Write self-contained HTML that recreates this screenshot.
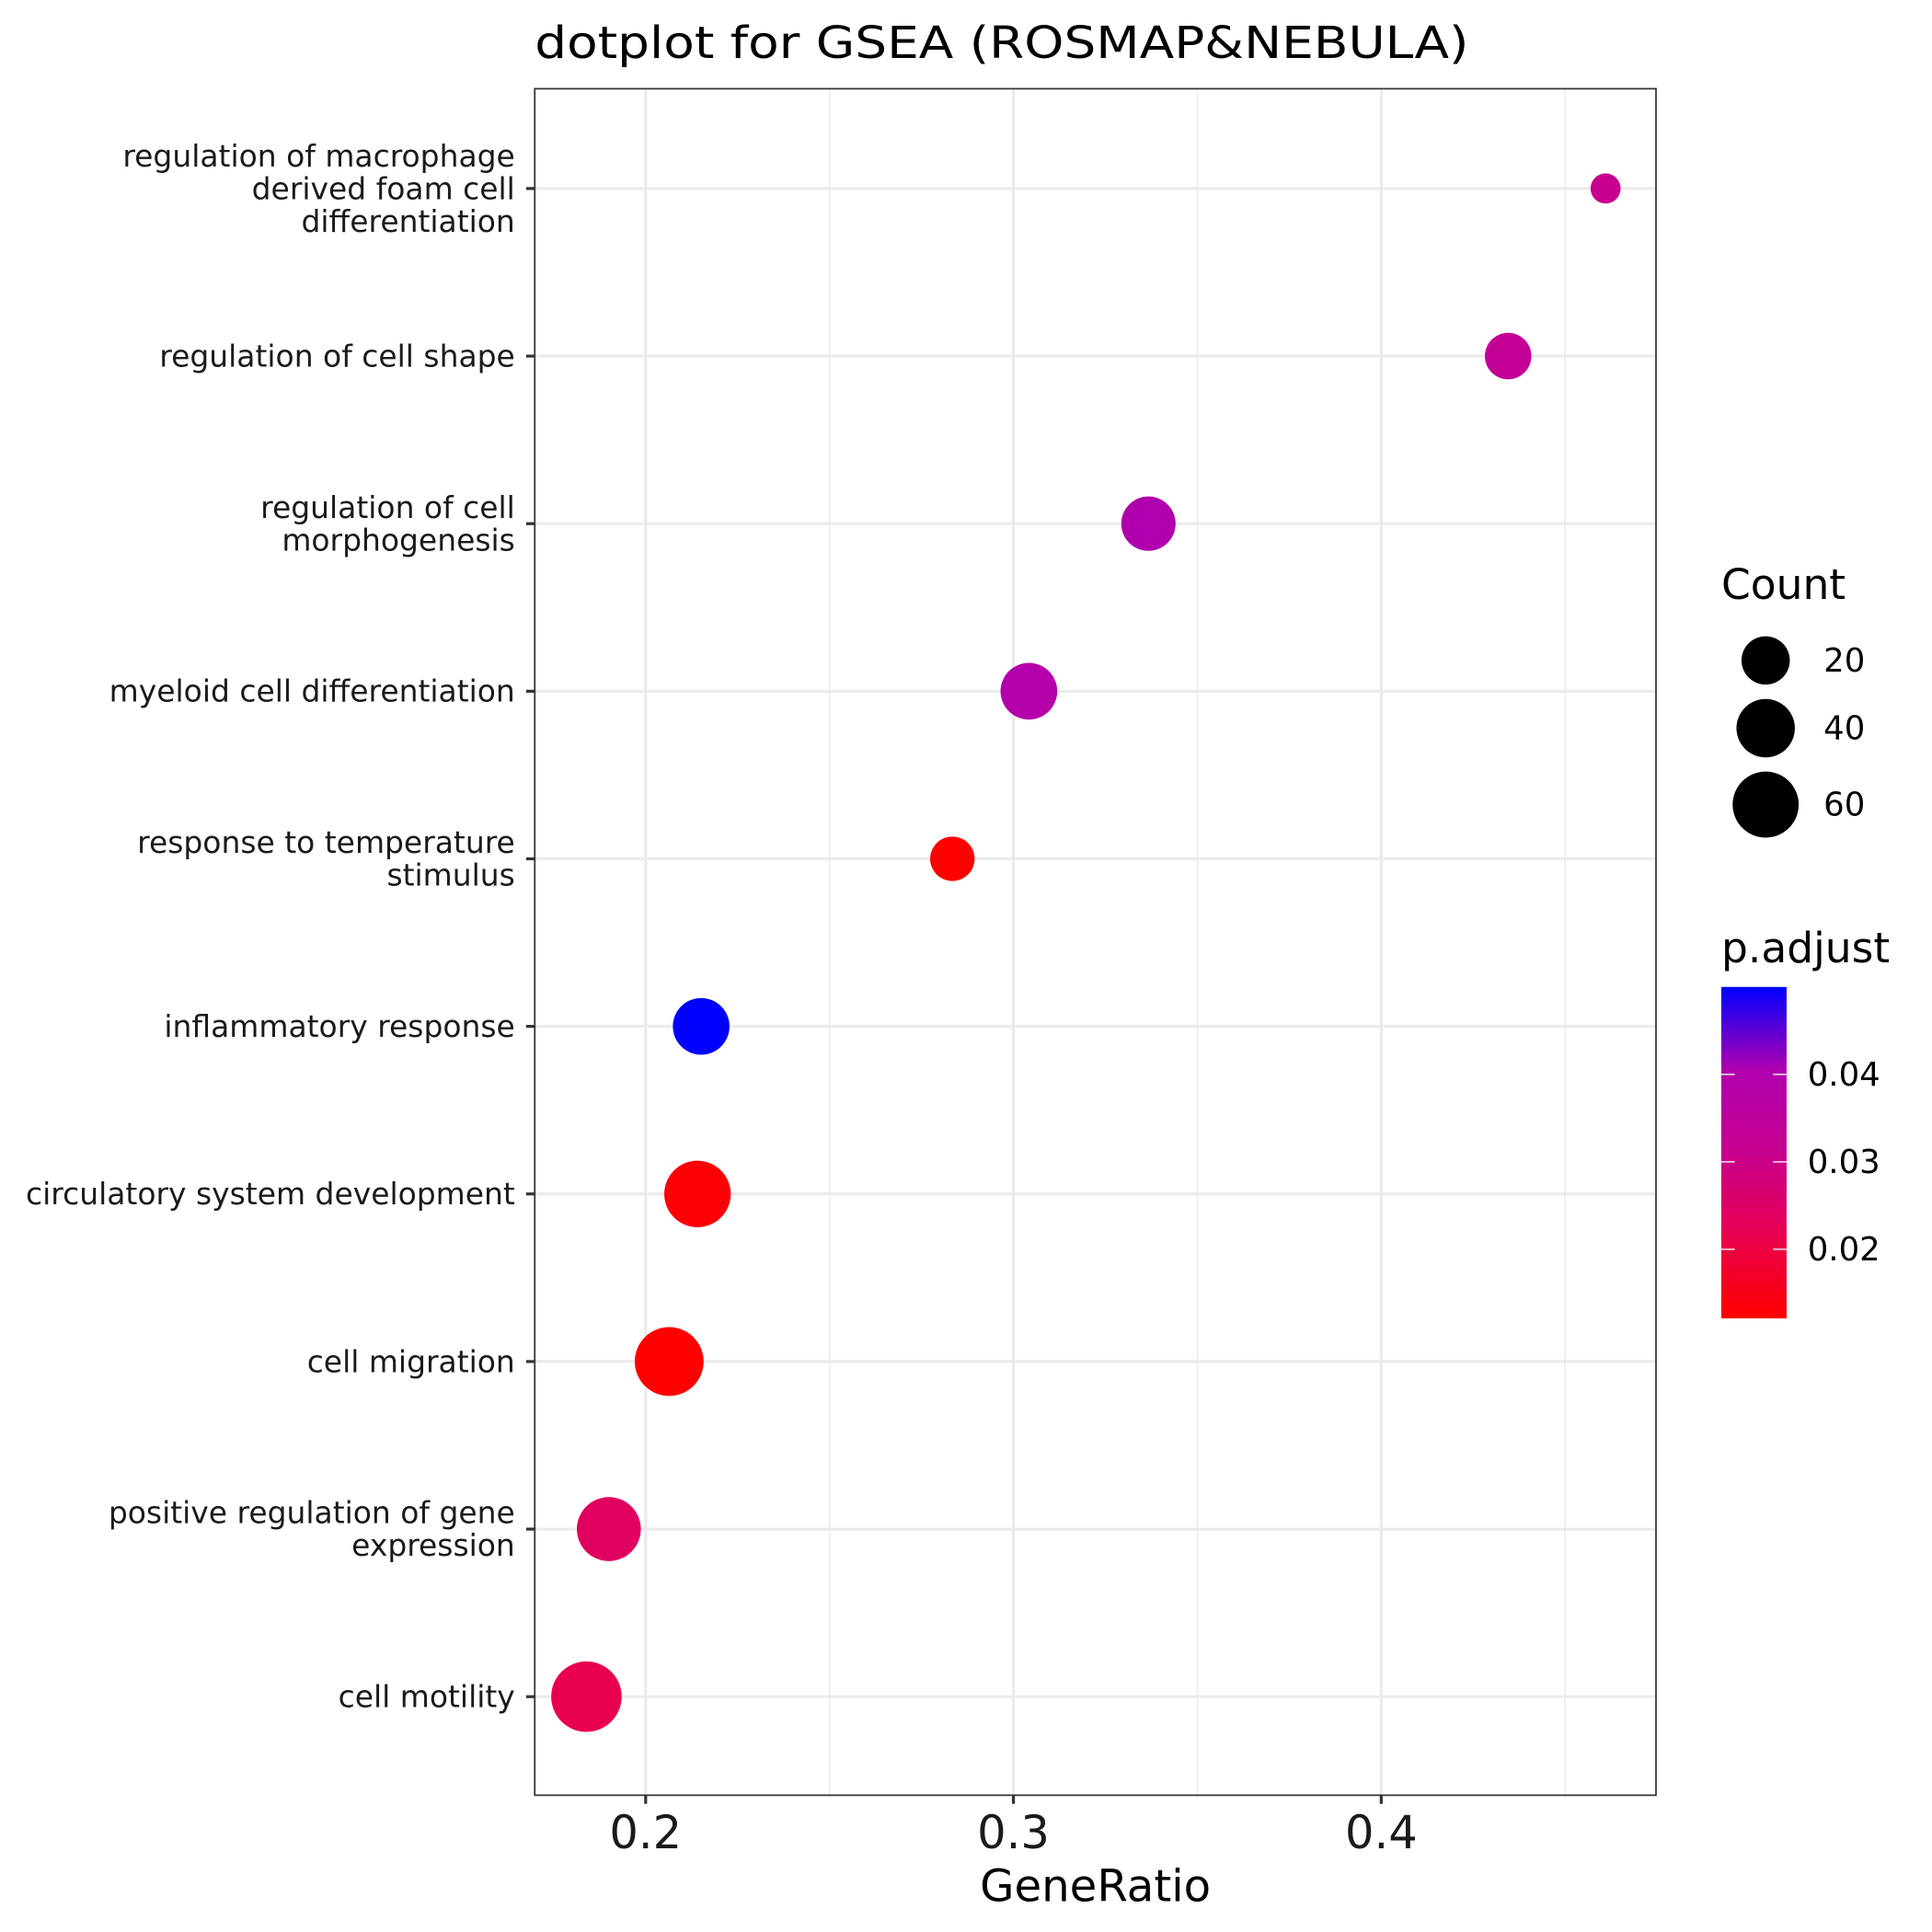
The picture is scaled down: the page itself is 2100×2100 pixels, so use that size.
<!DOCTYPE html>
<html><head><meta charset="utf-8"><style>
html,body{margin:0;padding:0;background:#fff;}
svg{display:block;font-family:"DejaVu Sans","Liberation Sans",sans-serif;}
</style></head><body>
<svg id="chart" width="2100" height="2100" viewBox="0 0 1568 1568" xmlns="http://www.w3.org/2000/svg">
<rect width="1568" height="1568" fill="#fff"/>
<text x="434" y="47" font-size="36" textLength="758" lengthAdjust="spacingAndGlyphs">dotplot for GSEA (ROSMAP&amp;NEBULA)</text>
<g id="grid"></g>
<g id="dots"></g>
<rect x="434" y="72" width="910" height="1385" fill="none" stroke="#333" stroke-width="1.3"/>
<g id="yaxis"></g>
<g id="xaxis"></g>
<text x="889" y="1543" font-size="36" text-anchor="middle">GeneRatio</text>
<g id="legend"></g>
</svg>
<script>
const categories = [
  ["regulation of macrophage","derived foam cell","differentiation"],
  ["regulation of cell shape"],
  ["regulation of cell","morphogenesis"],
  ["myeloid cell differentiation"],
  ["response to temperature","stimulus"],
  ["inflammatory response"],
  ["circulatory system development"],
  ["cell migration"],
  ["positive regulation of gene","expression"],
  ["cell motility"]
];
const geneRatio = [0.461, 0.4345, 0.3367, 0.3042, 0.2834, 0.2151, 0.2141, 0.2064, 0.190, 0.1839];
const counts = [1.2, 17, 31, 36, 14, 36, 61, 68, 54, 73];
const pAdjust = [0.031, 0.033, 0.040, 0.039, 0.0121, 0.050, 0.0128, 0.0122, 0.024, 0.0216];
const xTicks = [0.2, 0.3, 0.4];
const xMinor = [0.25, 0.35, 0.45];
const countLegend = [20, 40, 60];
const pTicks = [0.02, 0.03, 0.04];
const pRange = [0.0121, 0.050];

const NS = "http://www.w3.org/2000/svg";
const X0 = 434, X1 = 1344, Y0 = 72, Y1 = 1457;
const xScale = v => 524 + (v - 0.2) * 2985;
const yScale = i => 153 + i * 136;
const rScale = c => 9.8 + 2.2 * Math.sqrt(c);
const stops = [[255,0,0],[232,0,78],[200,0,143],[175,0,175],[0,0,255]];
function colorScale(p){
  let t = (p - pRange[0]) / (pRange[1] - pRange[0]);
  t = Math.max(0, Math.min(1, t));
  const s = t * (stops.length - 1), i = Math.min(Math.floor(s), stops.length - 2), f = s - i;
  const c = stops[i].map((v, k) => Math.round(v + (stops[i+1][k] - v) * f));
  return `rgb(${c[0]},${c[1]},${c[2]})`;
}
function mk(tag, attrs, parent){
  const e = document.createElementNS(NS, tag);
  for (const k in attrs) e.setAttribute(k, attrs[k]);
  parent.appendChild(e);
  return e;
}
const grid = document.getElementById('grid');
mk('rect', {x:X0, y:Y0, width:X1-X0, height:Y1-Y0, fill:'#fff'}, grid);
xMinor.forEach(v => {
  const l = mk('line', {x1:xScale(v), x2:xScale(v), y1:Y0, y2:Y1, stroke:'#ebebeb', 'stroke-width':1.2}, grid);
  
  
});
xTicks.forEach(v => {
  const l = mk('line', {x1:xScale(v), x2:xScale(v), y1:Y0, y2:Y1, stroke:'#ebebeb', 'stroke-width':2.4}, grid);
  
  
});
categories.forEach((c, i) => {
  const l = mk('line', {x1:X0, x2:X1, y1:yScale(i), y2:yScale(i), stroke:'#ebebeb', 'stroke-width':2.4}, grid);
  
  
});
const dots = document.getElementById('dots');
geneRatio.forEach((g, i) => {
  const c = mk('circle', {cx:xScale(g), cy:yScale(i), r:rScale(counts[i]), fill:colorScale(pAdjust[i])}, dots);
  
  
});
const yaxis = document.getElementById('yaxis');
categories.forEach((lines, i) => {
  const y = yScale(i);
  const t = mk('line', {x1:X0-7, x2:X0, y1:y, y2:y, stroke:'#333', 'stroke-width':2.4}, yaxis);
  
  
  const lh = 26.5;
  const startY = y - (lines.length - 1) * lh / 2 + 8.5;
  const tx = mk('text', {x:418, y:startY, 'font-size':24.6, 'text-anchor':'end', fill:'#1a1a1a'}, yaxis);
  
  
  lines.forEach((ln, k) => {
    const ts = mk('tspan', {x:418, dy: k === 0 ? 0 : lh}, tx);
    ts.textContent = ln;
  });
});
const xaxis = document.getElementById('xaxis');
xTicks.forEach(v => {
  const t = mk('line', {x1:xScale(v), x2:xScale(v), y1:Y1, y2:Y1+7, stroke:'#333', 'stroke-width':2.4}, xaxis);
  
  
  const tx = mk('text', {x:xScale(v), y:1500, 'font-size':37, 'text-anchor':'middle', fill:'#1a1a1a'}, xaxis);
  
  
  tx.textContent = v.toFixed(1);
});
const legend = document.getElementById('legend');
const ct = mk('text', {x:1397, y:486, 'font-size':34}, legend);


ct.textContent = 'Count';
const legY = [536, 591, 653];
countLegend.forEach((c, i) => {
  const r = [19.6, 23.7, 26.8][i];
  const ci = mk('circle', {cx:1433, cy:legY[i], r:r, fill:'#000'}, legend);
  
  
  const tx = mk('text', {x:1480, y:legY[i]+9, 'font-size':26.5}, legend);
  
  
  tx.textContent = c;
});
const pt = mk('text', {x:1397, y:781, 'font-size':34}, legend);


pt.textContent = 'p.adjust';
const defs = mk('defs', {}, legend);
const lg = mk('linearGradient', {id:'pgrad', x1:0, y1:1, x2:0, y2:0}, defs);
for (let k = 0; k <= 20; k++) {
  mk('stop', {offset: k/20, 'stop-color': colorScale(pRange[0] + (pRange[1]-pRange[0]) * k/20)}, lg);
}
const CB0 = 801, CB1 = 1070;
const cb = mk('rect', {x:1397, y:CB0, width:53, height:CB1-CB0, fill:'url(#pgrad)'}, legend);


const pY = p => CB1 - (p - pRange[0]) / (pRange[1] - pRange[0]) * (CB1 - CB0);
pTicks.forEach(p => {
  const y = pY(p);
  [[1397,1408],[1439,1450]].forEach(([a,b]) => {
    const l = mk('line', {x1:a, x2:b, y1:y, y2:y, stroke:'#fff', 'stroke-width':1}, legend);
    
    
  });
  const tx = mk('text', {x:1467, y:y+9, 'font-size':26.5}, legend);
  
  
  tx.textContent = p.toFixed(2);
});
</script>
</body></html>
